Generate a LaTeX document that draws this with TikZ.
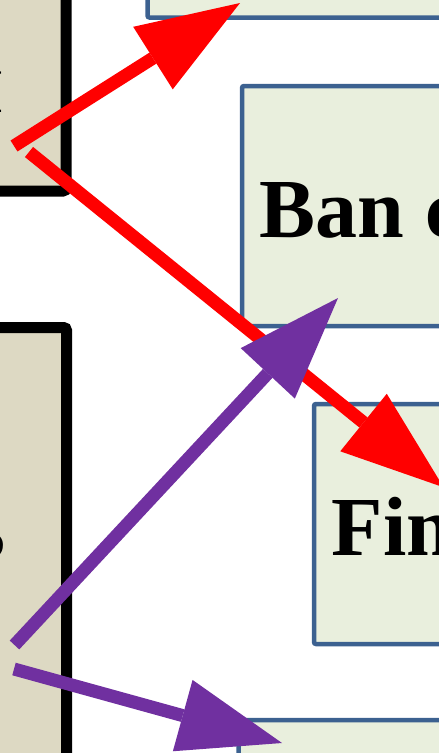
\documentclass[tikz,border=0pt]{standalone}
\usepackage{fontspec}
\setmainfont{Liberation Serif}
\usetikzlibrary{arrows.meta}
\definecolor{tanfill}{HTML}{DDD9C3}
\definecolor{greenfill}{HTML}{E9EFDD}
\definecolor{boxblue}{HTML}{3C6190}
\definecolor{arrred}{HTML}{FF0000}
\definecolor{arrpurple}{HTML}{7030A0}
\begin{document}
\begin{tikzpicture}[x=1pt,y=-1pt,
  leftbox/.style={draw=black, line width=11pt, fill=tanfill, rounded corners=3pt, inner sep=0pt},
  rightbox/.style={draw=boxblue, line width=4.5pt, fill=greenfill, rounded corners=2pt, inner sep=0pt},
  boxtext/.style={font=\bfseries\fontsize{84}{90}\selectfont, inner sep=0pt},
  conn/.style={line width=13pt, line cap=butt, -{Triangle[length=103pt,width=74pt,line width=0pt]}}
]
\useasboundingbox (0,0) rectangle (439,753);
\clip (0,0) rectangle (439,753);
% boxes
\node[leftbox, minimum width=266pt, minimum height=391pt] (lt) at (-67,-4.5) {};
\node[leftbox, minimum width=266.5pt, minimum height=672.5pt] (lb) at (-66.75,663.75) {};
\node[rightbox, minimum width=552.5pt, minimum height=217.5pt] (top) at (423.75,-91.25) {};
\node[rightbox, minimum width=458pt, minimum height=240pt] (ban) at (471,206) {};
\node[rightbox, minimum width=386pt, minimum height=240pt] (fin) at (507,524) {};
\node[rightbox, minimum width=461.5pt, minimum height=280pt] (bot) at (469.25,860) {};
% texts
\node[boxtext, anchor=base west] (bantxt) at (259.7,237) {Ban c};
\node[boxtext, anchor=base west] (fintxt) at (331.7,555) {Fin};
\node[font=\bfseries\fontsize{62}{66}\selectfont, inner sep=0pt, anchor=base east] (lttxt) at (4,112) {I};
\node[font=\bfseries\fontsize{66}{70}\selectfont, inner sep=0pt, anchor=base east] (lbtxt) at (6,558) {S};
% connector end points
\coordinate (r1s) at (14,146);
\coordinate (r1e) at (240,3);
\coordinate (r2s) at (29,152);
\coordinate (r2e) at (443.6,487.3);
\coordinate (p1s) at (14.5,645);
\coordinate (p1e) at (338,298);
\coordinate (p2s) at (14,669);
\coordinate (p2e) at (282,743);
% connectors
\draw[conn, draw=arrred, fill=arrred] (r1s) -- (r1e);
\draw[conn, draw=arrred, fill=arrred] (r2s) -- (r2e);
\draw[conn, draw=arrpurple, fill=arrpurple] (p1s) -- (p1e);
\draw[conn, draw=arrpurple, fill=arrpurple] (p2s) -- (p2e);
\end{tikzpicture}
\end{document}
